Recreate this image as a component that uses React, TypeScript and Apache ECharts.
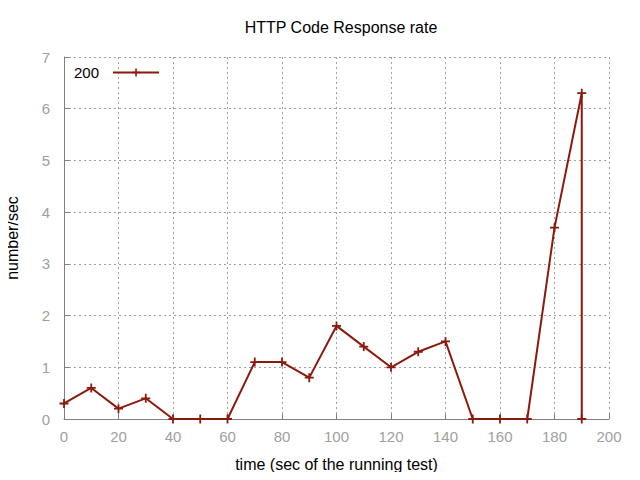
import React, { useEffect, useRef } from "react";
import * as echarts from "echarts";

const times = [0, 10, 20, 30, 40, 50, 60, 70, 80, 90, 100, 110, 120, 130, 140, 150, 160, 170, 180, 190, 190];
const rates = [0.3, 0.6, 0.2, 0.4, 0, 0, 0, 1.1, 1.1, 0.8, 1.8, 1.4, 1.0, 1.3, 1.5, 0, 0, 0, 3.7, 6.3, 0];
const seriesName = "200";

const PLUS = "path://M4,0L6,0L6,4L10,4L10,6L6,6L6,10L4,10L4,6L0,6L0,4L4,4Z";

export default function App() {
  const ref = useRef<HTMLDivElement>(null);
  useEffect(() => {
    if (!ref.current) return;
    const chart = echarts.init(ref.current, null, { renderer: "svg" });
    const font = "'Liberation Sans', Arial, sans-serif";
    const red = "#8b1a0e";
    chart.setOption({
      animation: false,
      textStyle: { fontFamily: font },
      title: {
        text: "HTTP Code Response rate",
        left: 336,
        top: 14,
        textAlign: "center",
        textStyle: { fontFamily: font, fontSize: 16, fontWeight: "normal", color: "#000" },
      },
      legend: {
        left: 69,
        top: 60,
        align: "right",
        itemWidth: 46,
        itemHeight: 10,
        textStyle: { fontFamily: font, fontSize: 15, color: "#000", padding: [0, 9, 0, 0] },
        data: [seriesName],
      },
      grid: { left: 64, right: 31, top: 57, bottom: 61, outerBoundsMode: "none" },
      xAxis: {
        type: "value",
        min: 0,
        max: 200,
        interval: 20,
        name: "time (sec of the running test)",
        nameLocation: "middle",
        nameGap: 37,
        nameTextStyle: { fontFamily: font, fontSize: 16, color: "#000" },
        axisLine: { show: true, lineStyle: { color: "#808080", width: 1 } },
        axisTick: { show: true, inside: true, length: 5, lineStyle: { color: "#808080" } },
        axisLabel: { fontFamily: font, fontSize: 15, color: "#a0a0a0", margin: 10 },
        splitLine: { show: true, lineStyle: { color: "#a0a0a0", type: [2, 3], width: 1 } },
      },
      yAxis: {
        type: "value",
        min: 0,
        max: 7,
        interval: 1,
        name: "number/sec",
        nameLocation: "middle",
        nameGap: 44,
        nameTextStyle: { fontFamily: font, fontSize: 16, color: "#000" },
        axisLine: { show: true, lineStyle: { color: "#808080", width: 1 } },
        axisTick: { show: true, inside: true, length: 5, lineStyle: { color: "#808080" } },
        axisLabel: { fontFamily: font, fontSize: 15, color: "#a0a0a0", margin: 14 },
        splitLine: { show: true, lineStyle: { color: "#a0a0a0", type: [2, 3], width: 1 } },
      },
      series: [
        {
          name: seriesName,
          type: "line",
          data: times.map((t, i) => [t, rates[i]]),
          symbol: PLUS,
          symbolSize: 9,
          showAllSymbol: true,
          lineStyle: { color: red, width: 2 },
          itemStyle: { color: red },
          emphasis: { disabled: true },
        },
      ],
    });
    return () => chart.dispose();
  }, []);
  return <div ref={ref} style={{ width: 640, height: 480, margin: -8 }} />;
}
